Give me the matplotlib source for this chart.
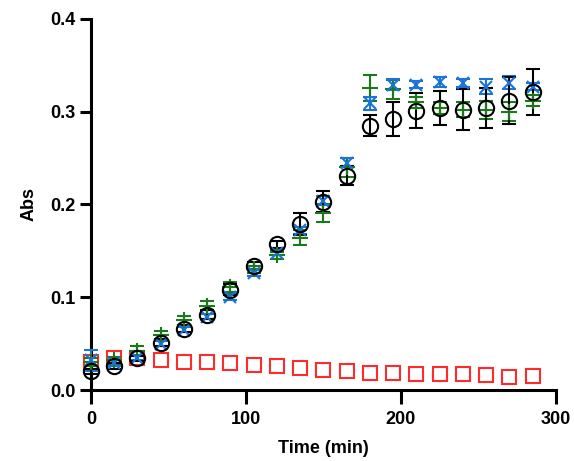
import matplotlib
matplotlib.use("Agg")
from matplotlib import pyplot as plt

time_min = [0, 15, 30, 45, 60, 75, 90, 105, 120, 135,
            150, 165, 180, 195, 210, 225, 240, 255, 270, 285]

black_mean = [0.020, 0.026, 0.034, 0.051, 0.066, 0.081, 0.108, 0.134, 0.157, 0.179,
              0.203, 0.231, 0.285, 0.292, 0.301, 0.304, 0.302, 0.304, 0.312, 0.321]
black_err = [0.003, 0.003, 0.003, 0.004, 0.004, 0.005, 0.006, 0.004, 0.004, 0.012,
             0.011, 0.010, 0.011, 0.018, 0.019, 0.018, 0.022, 0.022, 0.025, 0.025]

green_mean = [0.030, 0.032, 0.042, 0.059, 0.075, 0.091, 0.111, 0.130, 0.145, 0.164,
              0.191, 0.240, 0.326, 0.324, 0.310, 0.304, 0.302, 0.302, 0.300, 0.312]
green_err = [0.004, 0.004, 0.005, 0.005, 0.005, 0.005, 0.005, 0.004, 0.004, 0.008,
             0.010, 0.010, 0.014, 0.010, 0.006, 0.006, 0.008, 0.010, 0.010, 0.006]

blue_mean = [0.032, 0.029, 0.035, 0.050, 0.065, 0.079, 0.100, 0.126, 0.148, 0.172,
             0.204, 0.245, 0.309, 0.329, 0.329, 0.332, 0.331, 0.327, 0.331, 0.327]
blue_err = [0.011, 0.003, 0.003, 0.003, 0.003, 0.003, 0.003, 0.003, 0.003, 0.004,
            0.005, 0.005, 0.007, 0.006, 0.004, 0.005, 0.004, 0.008, 0.007, 0.004]

red_mean = [0.030, 0.034, 0.035, 0.032, 0.030, 0.030, 0.029, 0.027, 0.026, 0.024,
            0.022, 0.020, 0.018, 0.018, 0.017, 0.017, 0.017, 0.016, 0.0145, 0.015]

plt.rcParams['font.family'] = ['Liberation Sans', 'DejaVu Sans']
plt.rcParams['font.weight'] = 'bold'

fig = plt.figure(figsize=(5.74, 4.61), dpi=100)
ax = fig.add_axes([0.1585, 0.154, 0.810, 0.805])

ax.plot(time_min, red_mean, linestyle="none", marker="s", markersize=10,
        markerfacecolor="none", markeredgecolor="#ff2a2a", markeredgewidth=1.5, zorder=2)

series = [
    (green_mean, green_err, "#1a7a1a", "+", 11),
    (blue_mean, blue_err, "#1a74d8", "x", 9),
    (black_mean, black_err, "black", "o", 11),
]
for mean, err, color, marker, ms in series:
    ax.errorbar(time_min, mean, yerr=err, linestyle="none", marker=marker, markersize=ms,
                color=color, markerfacecolor="none", markeredgecolor=color,
                markeredgewidth=1.5, elinewidth=1.5, capsize=5, capthick=1.5, zorder=3)

ax.set_xlim(0, 300)
ax.set_ylim(0, 0.4)
ax.set_xticks([0, 100, 200, 300])
ax.set_yticks([0.0, 0.1, 0.2, 0.3, 0.4])
ax.set_yticklabels(["0.0", "0.1", "0.2", "0.3", "0.4"])
ax.spines["top"].set_visible(False)
ax.spines["right"].set_visible(False)
for side in ["left", "bottom"]:
    ax.spines[side].set_linewidth(2.2)
ax.tick_params(axis="x", length=10, width=2.2, labelsize=13, pad=5)
ax.tick_params(axis="y", length=8, width=2.2, labelsize=13, pad=3)
for lbl in ax.get_xticklabels() + ax.get_yticklabels():
    lbl.set_fontweight("bold")
for artist in ax.get_children():
    artist.set_clip_on(False)

ax.set_xlabel("Time (min)", fontsize=13, fontweight="bold", labelpad=9)
ax.set_ylabel("Abs", fontsize=13, fontweight="bold", labelpad=9)

fig.savefig("out.png", dpi=100)
